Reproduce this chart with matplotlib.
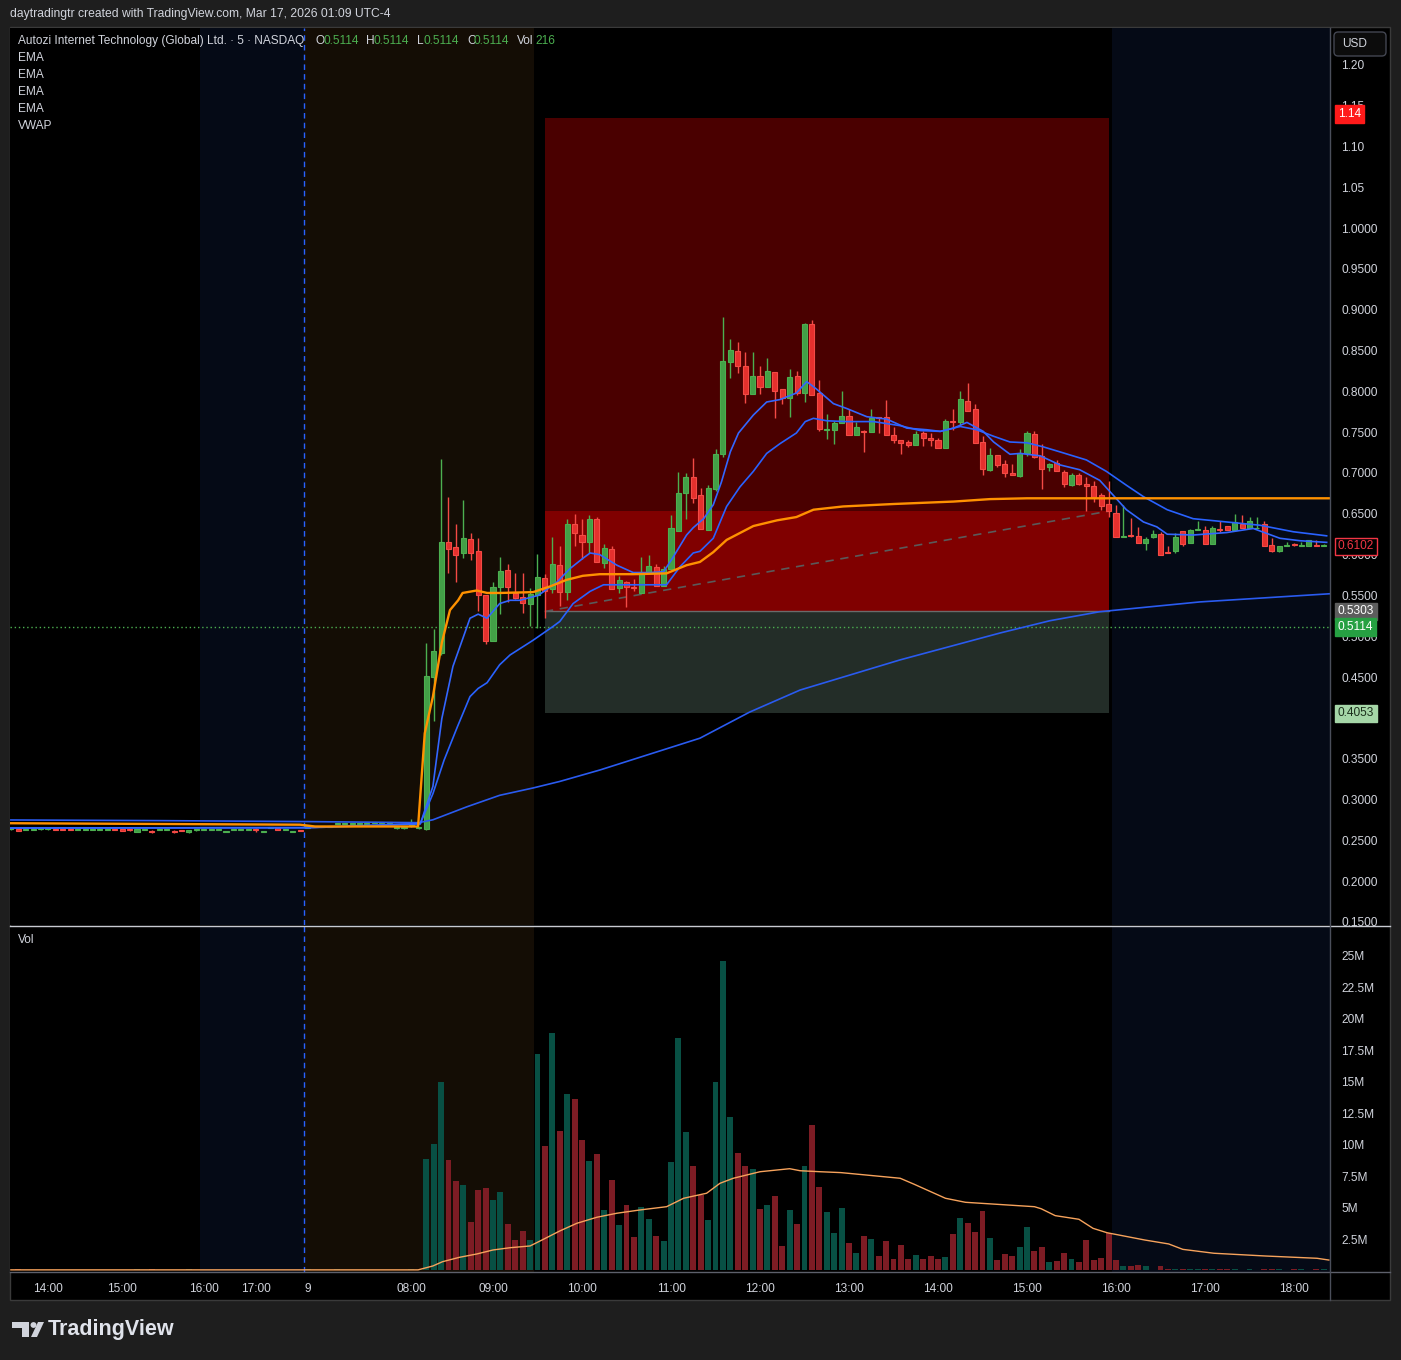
import numpy as np
import matplotlib
matplotlib.use("Agg")
import matplotlib.pyplot as plt
import matplotlib.transforms as mtrans
from matplotlib.patches import Rectangle, FancyBboxPatch, Polygon, Circle
from matplotlib.lines import Line2D

plt.rcParams["font.family"] = ["Liberation Sans", "DejaVu Sans"]

# ── 数据：5 分钟 K 线（索引 0 = 前一日 13:35 左右） ──
opens = [
    0.2633, 0.2633, 0.2630, 0.2630, 0.2633, 0.2633, 0.2635, 0.2633, 0.2633, 0.2630,
    0.2630, 0.2630, 0.2630, 0.2630, 0.2634, 0.2633, 0.2630, 0.2600, 0.2630, 0.2615,
    0.2630, 0.2630, 0.2617, 0.2620, 0.2596, 0.2620, 0.2630, 0.2630, 0.2630, 0.2600,
    0.2630, 0.2630, 0.2630, 0.2635, 0.2600, 0.2646, 0.2646, 0.2630, 0.2600, 0.2620,
    0.2650, 0.2667, 0.2667, 0.2667, 0.2703, 0.2703, 0.2703, 0.2703, 0.2703, 0.2707,
    0.2707, 0.2707, 0.2644, 0.2644, 0.2670, 0.2644,
    0.2641, 0.4504, 0.4798, 0.6150, 0.6090, 0.6020, 0.6190, 0.6050, 0.5500, 0.4945,
    0.5600, 0.5810, 0.5530, 0.5480, 0.5400, 0.5500, 0.5710, 0.5580, 0.5870, 0.5540,
    0.6370, 0.6240, 0.6150, 0.6440, 0.5900, 0.6070, 0.5590, 0.5670, 0.5600, 0.5530,
    0.5780, 0.5850, 0.5620, 0.5820, 0.6290, 0.6760, 0.6950, 0.6730, 0.6300, 0.6800,
    0.7230, 0.8360, 0.8500, 0.8310, 0.7970, 0.8190, 0.8050, 0.8240, 0.8030, 0.7920,
    0.8190, 0.7980, 0.8830, 0.7980, 0.7530, 0.7530, 0.7610, 0.7700, 0.7470, 0.7520,
    0.7500, 0.7690, 0.7690, 0.7470, 0.7400, 0.7380, 0.7340, 0.7490, 0.7430, 0.7410,
    0.7310, 0.7640, 0.7620, 0.7880, 0.7780, 0.7380, 0.7040, 0.7220, 0.7110, 0.7000,
    0.6960, 0.7250, 0.7480, 0.7210, 0.7070, 0.7120, 0.7010, 0.6850, 0.6980, 0.6860,
    0.6840, 0.6730, 0.6620, 0.6510, 0.6210, 0.6240, 0.6230, 0.6140, 0.6210, 0.6250,
    0.6035, 0.6040, 0.6290, 0.6140, 0.6300, 0.6300, 0.6130, 0.6310, 0.6350, 0.6300,
    0.6380, 0.6320, 0.6320, 0.6380, 0.6120, 0.6050, 0.6105, 0.6120, 0.6108, 0.6110,
    0.6120, 0.6100,
]
highs = [
    0.2640, 0.2636, 0.2636, 0.2645, 0.2636, 0.2636, 0.2637, 0.2635, 0.2635, 0.2636,
    0.2636, 0.2636, 0.2636, 0.2636, 0.2636, 0.2635, 0.2632, 0.2640, 0.2636, 0.2626,
    0.2636, 0.2636, 0.2620, 0.2622, 0.2622, 0.2632, 0.2636, 0.2636, 0.2636, 0.2606,
    0.2636, 0.2636, 0.2636, 0.2650, 0.2606, 0.2652, 0.2648, 0.2636, 0.2606, 0.2622,
    0.2690, 0.2673, 0.2673, 0.2673, 0.2709, 0.2709, 0.2709, 0.2709, 0.2709, 0.2713,
    0.2713, 0.2713, 0.2650, 0.2650, 0.2760, 0.2650,
    0.4917, 0.5088, 0.7172, 0.6710, 0.6380, 0.6670, 0.6260, 0.6200, 0.5500, 0.5660,
    0.5970, 0.5890, 0.5780, 0.5780, 0.5590, 0.6010, 0.5760, 0.6210, 0.6110, 0.6440,
    0.6500, 0.6440, 0.6490, 0.6460, 0.6130, 0.6100, 0.5740, 0.5680, 0.5700, 0.5970,
    0.6000, 0.5880, 0.5860, 0.6490, 0.7010, 0.7000, 0.7180, 0.6820, 0.6850, 0.7300,
    0.8910, 0.8640, 0.8610, 0.8480, 0.8480, 0.8310, 0.8410, 0.8240, 0.8030, 0.8280,
    0.8250, 0.8840, 0.8880, 0.8140, 0.7720, 0.7640, 0.8000, 0.7780, 0.7620, 0.7530,
    0.7780, 0.7690, 0.7890, 0.7560, 0.7400, 0.7400, 0.7520, 0.7510, 0.7490, 0.7430,
    0.7660, 0.7780, 0.8000, 0.8100, 0.7850, 0.7450, 0.7310, 0.7220, 0.7160, 0.7110,
    0.7290, 0.7510, 0.7510, 0.7360, 0.7120, 0.7160, 0.7040, 0.7000, 0.7000, 0.6950,
    0.6900, 0.6750, 0.6900, 0.6610, 0.6610, 0.6450, 0.6340, 0.6220, 0.6300, 0.6280,
    0.6110, 0.6270, 0.6290, 0.6310, 0.6410, 0.6350, 0.6350, 0.6410, 0.6350, 0.6500,
    0.6480, 0.6460, 0.6460, 0.6410, 0.6200, 0.6100, 0.6150, 0.6140, 0.6150, 0.6180,
    0.6180, 0.6130,
]
lows = [
    0.2628, 0.2612, 0.2628, 0.2622, 0.2630, 0.2630, 0.2628, 0.2625, 0.2625, 0.2628,
    0.2628, 0.2628, 0.2628, 0.2628, 0.2626, 0.2612, 0.2618, 0.2598, 0.2628, 0.2592,
    0.2628, 0.2628, 0.2592, 0.2612, 0.2594, 0.2618, 0.2628, 0.2628, 0.2628, 0.2598,
    0.2628, 0.2628, 0.2628, 0.2605, 0.2598, 0.2644, 0.2620, 0.2628, 0.2598, 0.2612,
    0.2648, 0.2665, 0.2665, 0.2665, 0.2701, 0.2701, 0.2701, 0.2701, 0.2701, 0.2705,
    0.2705, 0.2705, 0.2642, 0.2642, 0.2665, 0.2642,
    0.2625, 0.3965, 0.4770, 0.5770, 0.5660, 0.5960, 0.5930, 0.5310, 0.4904, 0.4945,
    0.5270, 0.5420, 0.5460, 0.5290, 0.5120, 0.5100, 0.5220, 0.5530, 0.5370, 0.5440,
    0.6110, 0.5950, 0.6020, 0.5910, 0.5830, 0.5580, 0.5530, 0.5360, 0.5550, 0.5530,
    0.5780, 0.5610, 0.5610, 0.5820, 0.6290, 0.6440, 0.6630, 0.6310, 0.6300, 0.6780,
    0.7190, 0.8170, 0.8230, 0.7860, 0.7970, 0.7970, 0.8050, 0.7670, 0.7840, 0.7690,
    0.7950, 0.7870, 0.7950, 0.7510, 0.7420, 0.7350, 0.7610, 0.7470, 0.7470, 0.7260,
    0.7500, 0.7490, 0.7470, 0.7370, 0.7230, 0.7320, 0.7340, 0.7330, 0.7330, 0.7310,
    0.7310, 0.7530, 0.7580, 0.7760, 0.7370, 0.6980, 0.7020, 0.7070, 0.6950, 0.6970,
    0.6950, 0.7210, 0.7180, 0.6810, 0.7030, 0.7020, 0.6830, 0.6840, 0.6850, 0.6530,
    0.6650, 0.6550, 0.6460, 0.6210, 0.6210, 0.6220, 0.6140, 0.6060, 0.6200, 0.6000,
    0.6020, 0.6020, 0.6110, 0.6140, 0.6300, 0.6130, 0.6130, 0.6280, 0.6300, 0.6300,
    0.6320, 0.6320, 0.6320, 0.6110, 0.6030, 0.6030, 0.6105, 0.6110, 0.6105, 0.6110,
    0.6110, 0.6100,
]
closes = [
    0.2633, 0.2615, 0.2633, 0.2633, 0.2635, 0.2635, 0.2630, 0.2627, 0.2628, 0.2634,
    0.2634, 0.2634, 0.2634, 0.2634, 0.2628, 0.2615, 0.2622, 0.2634, 0.2634, 0.2595,
    0.2634, 0.2634, 0.2595, 0.2614, 0.2620, 0.2630, 0.2634, 0.2634, 0.2634, 0.2604,
    0.2634, 0.2634, 0.2634, 0.2630, 0.2604, 0.2650, 0.2622, 0.2634, 0.2604, 0.2614,
    0.2686, 0.2671, 0.2671, 0.2671, 0.2707, 0.2707, 0.2707, 0.2707, 0.2707, 0.2711,
    0.2711, 0.2711, 0.2648, 0.2648, 0.2675, 0.2648,
    0.4512, 0.4819, 0.6154, 0.6065, 0.6000, 0.6200, 0.6020, 0.5500, 0.4945, 0.5600,
    0.5800, 0.5600, 0.5470, 0.5410, 0.5520, 0.5730, 0.5550, 0.5890, 0.5540, 0.6370,
    0.6260, 0.6150, 0.6440, 0.5910, 0.6080, 0.5580, 0.5690, 0.5600, 0.5585, 0.5770,
    0.5860, 0.5620, 0.5820, 0.6320, 0.6760, 0.6950, 0.6690, 0.6310, 0.6820, 0.7230,
    0.8370, 0.8510, 0.8310, 0.7970, 0.8190, 0.8050, 0.8250, 0.8010, 0.7920, 0.8180,
    0.7980, 0.8830, 0.7950, 0.7540, 0.7540, 0.7610, 0.7700, 0.7470, 0.7560, 0.7500,
    0.7680, 0.7670, 0.7470, 0.7400, 0.7370, 0.7340, 0.7480, 0.7430, 0.7400, 0.7310,
    0.7640, 0.7620, 0.7910, 0.7760, 0.7370, 0.7050, 0.7220, 0.7100, 0.7000, 0.6970,
    0.7250, 0.7490, 0.7200, 0.7050, 0.7110, 0.7020, 0.6860, 0.6980, 0.6860, 0.6840,
    0.6710, 0.6600, 0.6530, 0.6210, 0.6225, 0.6230, 0.6140, 0.6190, 0.6250, 0.6000,
    0.6025, 0.6220, 0.6130, 0.6300, 0.6310, 0.6130, 0.6320, 0.6300, 0.6300, 0.6400,
    0.6320, 0.6410, 0.6330, 0.6110, 0.6050, 0.6100, 0.6112, 0.6115, 0.6112, 0.6180,
    0.6110, 0.6102,
]
# 成交量（百万股）
volumes = [
    0.05, 0.08, 0.03, 0.04, 0.02, 0.03, 0.05, 0.04, 0.06, 0.02,
    0.03, 0.02, 0.02, 0.03, 0.04, 0.07, 0.05, 0.09, 0.03, 0.08,
    0.03, 0.02, 0.07, 0.05, 0.08, 0.04, 0.02, 0.03, 0.02, 0.04,
    0.02, 0.02, 0.03, 0.06, 0.03, 0.05, 0.07, 0.02, 0.03, 0.04,
    0.12, 0.06, 0.05, 0.04, 0.08, 0.05, 0.04, 0.03, 0.03, 0.05,
    0.04, 0.06, 0.05, 0.04, 0.15, 0.06,
    8.86, 10.06, 14.98, 8.78, 7.11, 6.80, 3.86, 6.40, 6.56, 5.60,
    6.24, 3.70, 2.42, 3.14, 2.42, 17.2, 9.90, 18.9, 11.1, 14.0,
    13.6, 10.4, 8.7, 9.26, 4.8, 7.2, 3.6, 5.2, 2.66, 5.05,
    4.09, 2.74, 2.34, 8.62, 18.5, 11.0, 8.3, 6.0, 4.0, 15.0,
    24.6, 12.2, 9.3, 8.3, 8.1, 4.9, 5.2, 5.9, 1.95, 4.8,
    3.7, 8.3, 11.6, 6.6,
    4.65, 2.98, 4.97, 2.19, 1.39, 2.74, 2.50, 1.15, 2.34, 0.91,
    2.03, 0.91, 1.23, 0.91, 1.15, 0.91, 1.07, 2.90, 4.17, 3.78,
    3.06, 4.73, 2.58, 0.83, 1.31, 1.15, 1.87, 3.46, 1.55, 1.87,
    0.68, 0.76, 1.39, 0.91, 0.68, 2.42, 0.83, 0.99, 2.98, 0.83,
    0.38, 0.38, 0.46, 0.38, 0.05, 0.38, 0.12, 0.12, 0.08, 0.08,
    0.08, 0.08, 0.10, 0.12, 0.08, 0.08, 0.06, 0.12, 0.06, 0.12,
    0.12, 0.08, 0.06, 0.08, 0.08, 0.06, 0.08, 0.08,
]

# 指标线（从图上读取的采样点：K 线索引, 数值）
ema_fast_x = [0, 40, 55.2, 56.9, 58.1, 59.6, 61.9, 63.0, 64.2, 65.9, 67.3, 68.6, 71.1, 73.6, 75.4,
              77.2, 78.1, 79.4, 81.7, 83.9, 86.2, 88.0, 89.3, 91.1, 92.0, 93.4, 94.7, 95.8, 97.0,
              98.1, 100.1, 101.9, 103.7, 105.9, 107.3, 108.6, 110.9, 112.7, 115.4, 118.1, 120.8,
              123.5, 125.3, 127.1, 128.9, 131.1, 132.5, 134.7, 136.1, 138.8, 141.4, 144.1, 146.8,
              148.6, 150.4, 152.7, 154.5, 155.9, 159.4, 163.9, 167.5, 169.3, 171.1, 173.8, 177.4]
ema_fast_y = [0.2648, 0.2652, 0.2700, 0.316, 0.399, 0.463, 0.522, 0.527, 0.522, 0.540, 0.544, 0.544,
              0.550, 0.566, 0.583, 0.596, 0.602, 0.600, 0.587, 0.578, 0.578, 0.579, 0.597, 0.624,
              0.633, 0.644, 0.661, 0.689, 0.726, 0.749, 0.771, 0.787, 0.790, 0.798, 0.812, 0.803,
              0.785, 0.779, 0.769, 0.766, 0.755, 0.753, 0.751, 0.755, 0.762, 0.751, 0.738, 0.723,
              0.724, 0.721, 0.710, 0.704, 0.691, 0.673, 0.655, 0.640, 0.634, 0.625, 0.624, 0.627,
              0.632, 0.626, 0.620, 0.617, 0.615]
ema_mid_x = [0, 40, 55.2, 56.9, 58.4, 60.2, 61.9, 63.0, 64.2, 65.9, 67.3, 70.4, 73.1, 74.0, 75.8,
             78.1, 79.9, 83.9, 88.4, 90.2, 92.0, 92.9, 94.7, 96.5, 98.3, 100.1, 101.9, 103.7, 105.9,
             107.1, 108.2, 110.0, 112.7, 116.3, 119.9, 122.6, 125.3, 128.0, 130.2, 132.5, 134.7,
             137.0, 139.2, 141.4, 145.0, 147.7, 150.4, 152.7, 155.9, 159.4, 163.9, 168.4, 172.9, 177.4]
ema_mid_y = [0.2650, 0.2655, 0.2705, 0.307, 0.348, 0.389, 0.426, 0.436, 0.443, 0.465, 0.477, 0.495,
             0.512, 0.518, 0.540, 0.555, 0.563, 0.563, 0.563, 0.585, 0.602, 0.604, 0.620, 0.659,
             0.683, 0.702, 0.724, 0.736, 0.749, 0.763, 0.767, 0.764, 0.763, 0.763, 0.758, 0.752,
             0.751, 0.757, 0.753, 0.745, 0.738, 0.737, 0.732, 0.726, 0.716, 0.702, 0.685, 0.671,
             0.655, 0.644, 0.640, 0.636, 0.628, 0.623]
ema_slow_x = [0, 20, 40, 55, 56.9, 61.5, 65.9, 70.4, 74.0, 79.4, 92.9, 99.6, 106.4, 119.9, 133.4,
              140.1, 146.8, 160.3, 177.8]
ema_slow_y = [0.2748, 0.2740, 0.2728, 0.2715, 0.275, 0.291, 0.305, 0.314, 0.322, 0.336, 0.375, 0.407,
              0.434, 0.471, 0.504, 0.519, 0.530, 0.542, 0.552]
vwap_x = [0, 39, 41, 54.9, 55.8, 56.9, 58.1, 59.2, 60.3, 60.9, 62.8, 64.2, 65.9, 70.4, 72.7, 74.9,
          77.1, 79.4, 83.9, 88.4, 91.1, 92.9, 94.7, 96.5, 100.1, 103.3, 105.9, 108.2, 112.2, 119.0,
          127.1, 132.0, 137.0, 177.8]
vwap_y = [0.2708, 0.2690, 0.2668, 0.2668, 0.381, 0.426, 0.492, 0.532, 0.544, 0.553, 0.556, 0.553,
          0.553, 0.554, 0.561, 0.569, 0.574, 0.576, 0.576, 0.577, 0.587, 0.591, 0.603, 0.618,
          0.635, 0.642, 0.646, 0.655, 0.659, 0.662, 0.665, 0.668, 0.669, 0.669]
vol_ma_x = [0, 54.9, 56.9, 58.2, 60.5, 62.8, 65.0, 67.3, 70.0, 71.8, 74.0, 76.3, 79.0, 81.7, 84.8,
            88.4, 90.7, 93.8, 95.6, 97.4, 101.0, 105.0, 106.4, 109.1, 111.9, 119.9, 121.8, 126.0,
            128.7, 138.0, 138.9, 140.8, 144.0, 145.9, 147.8, 152.9, 156.1, 158.0, 162.2, 169.2,
            176.1, 177.7]
vol_ma_y = [0.05, 0.05, 0.36, 0.70, 1.05, 1.31, 1.63, 1.81, 1.95, 2.48, 3.14, 3.75, 4.23, 4.55, 4.81,
            5.07, 5.74, 6.14, 6.93, 7.33, 7.85, 8.09, 7.93, 7.85, 7.78, 7.33, 6.85, 5.74, 5.42,
            5.07, 4.91, 4.36, 4.07, 3.35, 3.00, 2.42, 2.11, 1.68, 1.37, 1.15, 0.97, 0.83]

# 空头仓位工具
pos_x = [72.0, 148.1]
entry_price = 0.5303
stop_price = 1.135
target_price = 0.4053
pos_end_price = 0.6534
last_price = 0.5114

# 轴刻度（0.4000 被目标价标签遮住，不显示）
price_ticks = [1.20, 1.15, 1.10, 1.05, 1.00, 0.95, 0.90, 0.85, 0.80, 0.75, 0.70, 0.65, 0.60,
               0.55, 0.50, 0.45, 0.35, 0.30, 0.25, 0.20, 0.15]
vol_ticks = [2.5, 5, 7.5, 10, 12.5, 15, 17.5, 20, 22.5, 25]
time_ticks = [5, 15, 26, 33, 40, 54, 65, 77, 89, 101, 113, 125, 137, 149, 161, 173]
time_labels = ["14:00", "15:00", "16:00", "17:00", "9", "08:00", "09:00", "10:00", "11:00",
               "12:00", "13:00", "14:00", "15:00", "16:00", "17:00", "18:00"]
# 交易时段分界（K 线索引）
post_prev = (25.5, 39.5)
premarket = (39.5, 70.5)
post_today = (148.5, 179)

# ── 配色 ──
TXT = "#d1d4dc"
UP, UP_FACE = "#4caf50", "#43a047"
DN, DN_FACE = "#f44a45", "#e5302d"
VOL_UP, VOL_DN = "#085044", "#7d1c24"
BLUE = "#2962ff"
ORANGE = "#ff9100"
NAVY = "#050a16"
BROWN = "#140d05"

W, H = 1401, 1360
fig = plt.figure(figsize=(W / 100, H / 100), dpi=100, facecolor="#1e1e1e")


def fx(px):
    return px / W


def fy(py):
    return 1 - py / H


def ftext(px, py, s, **kw):
    kw.setdefault("color", TXT)
    kw.setdefault("fontsize", 8.6)
    kw.setdefault("va", "center")
    fig.text(fx(px), fy(py), s, **kw)


# 图表外框
fig.add_artist(Rectangle((fx(10), fy(1300)), 1380 / W, 1273 / H, transform=fig.transFigure,
                         facecolor="black", edgecolor="#3a3a3a", lw=1, zorder=0))

ax_p = fig.add_axes([fx(10), fy(925), 1320 / W, 897 / H], facecolor="black")
ax_v = fig.add_axes([fx(10), fy(1272), 1320 / W, 346 / H], facecolor="black")

o = np.array(opens)
h = np.array(highs)
l = np.array(lows)
c = np.array(closes)
v = np.array(volumes)
x = np.arange(len(c))
up = c >= o

for ax in (ax_p, ax_v):
    ax.set_xlim(-0.12, 177.85)
    for a, b in (post_prev, post_today):
        ax.axvspan(a, b, color=NAVY, lw=0, zorder=0)
    ax.axvspan(*premarket, color=BROWN, lw=0, zorder=0)
    ax.axvline(39.5, color=BLUE, lw=1, ls=(0, (4, 3)), zorder=1)
    for s in ax.spines.values():
        s.set_visible(False)

# 仓位区域
ax_p.fill_between(pos_x, pos_end_price, stop_price, color="#4a0000", lw=0, zorder=1)
ax_p.fill_between(pos_x, entry_price, pos_end_price, color="#800000", lw=0, zorder=1)
ax_p.fill_between(pos_x, target_price, entry_price, color="#232d28", lw=0, zorder=1)
ax_p.plot(pos_x, [entry_price, entry_price], color="#6b6b6b", lw=1, zorder=1.5)
ax_p.plot(pos_x, [entry_price, pos_end_price], color="#5a5a5a", lw=1.2,
          ls=(0, (5, 4)), zorder=1.5)
ax_p.axhline(last_price, color=UP, lw=1, ls=(0, (1, 2)), zorder=1.5)

# K 线
body_lo = np.minimum(o, c)
body_h = np.maximum(np.abs(c - o), 0.0012)
for mask, edge, face in ((up, UP, UP_FACE), (~up, DN, DN_FACE)):
    ax_p.vlines(x[mask], l[mask], h[mask], color=edge, lw=1, zorder=3)
    ax_p.bar(x[mask], body_h[mask], bottom=body_lo[mask], width=0.68, color=face,
             edgecolor=edge, lw=0.8, zorder=3.5)

# 指标线
ax_p.plot(ema_slow_x, ema_slow_y, color="#2a5bf0", lw=1.2, zorder=4)
ax_p.plot(ema_mid_x, ema_mid_y, color=BLUE, lw=1.2, zorder=4)
ax_p.plot(ema_fast_x, ema_fast_y, color="#3366ff", lw=1.2, zorder=4)
ax_p.plot(vwap_x, vwap_y, color=ORANGE, lw=1.7, zorder=4.2)

ax_p.set_ylim(0.14608, 1.24534)
ax_p.yaxis.tick_right()
ax_p.set_yticks(price_ticks)
ax_p.set_yticklabels([f"{t:.2f}" if t > 1.001 else f"{t:.4f}" for t in price_ticks])
ax_p.tick_params(axis="y", length=0, pad=8, labelcolor=TXT, labelsize=8.6)
ax_p.set_xticks([])

# 右轴价格标签
blend = mtrans.blended_transform_factory(ax_p.transAxes, ax_p.transData)
labels = [
    (1.14, "1.14", "white", "#ff1a1a", "#ff1a1a"),
    (0.6102, "0.6102", "#f23645", "black", "#f23645"),
    (entry_price, "0.5303", "white", "#5d5d5d", "#5d5d5d"),
    (last_price, "0.5114", "white", "#26a042", "#26a042"),
    (target_price, "0.4053", "#1b2e1b", "#a5d6a7", "#a5d6a7"),
]
for yv, s, tc, fc, ec in labels:
    ax_p.text(1.006, yv, s, transform=blend, ha="left", va="center", fontsize=8.6,
              color=tc, clip_on=False, zorder=10,
              bbox=dict(boxstyle="square,pad=0.22", fc=fc, ec=ec, lw=1))

# 成交量
ax_v.bar(x, v, width=0.8, color=np.where(up, VOL_UP, VOL_DN), lw=0, zorder=2)
ax_v.plot(vol_ma_x, vol_ma_y, color="#f7a35c", lw=1, zorder=3)
ax_v.set_ylim(-0.12, 27.38)
ax_v.yaxis.tick_right()
ax_v.set_yticks(vol_ticks)
ax_v.set_yticklabels([f"{t:g}M" for t in vol_ticks])
ax_v.tick_params(axis="y", length=0, pad=8, labelcolor=TXT, labelsize=8.6)
ax_v.set_xticks(time_ticks)
ax_v.set_xticklabels(time_labels)
ax_v.tick_params(axis="x", length=0, pad=8, labelcolor=TXT, labelsize=8.6)

# 分隔线
for (x0, y0, x1, y1, col) in [
    (10, 925.5, 1390, 925.5, "#c8cbd2"),
    (10, 1272, 1390, 1272, "#5d606b"),
    (1330, 28, 1330, 1300, "#4a4e5a"),
]:
    fig.add_artist(Line2D([fx(x0), fx(x1)], [fy(y0), fy(y1)], color=col, lw=1,
                          transform=fig.transFigure, zorder=5))

# USD 按钮
fig.add_artist(FancyBboxPatch((fx(1334), fy(56)), 52 / W, 24 / H, transform=fig.transFigure,
                              boxstyle="round,pad=0,rounding_size=0.003", fc="#0c0c0c",
                              ec="#434651", lw=1, zorder=6))
ftext(1342, 44, "USD", zorder=7)

# 顶部文字与图例
ftext(10, 14, "daytradingtr created with TradingView.com, Mar 17, 2026 01:09 UTC-4", fontsize=8.7)
ftext(18, 41, "Autozi Internet Technology (Global) Ltd. · 5 · NASDAQ")
for px, s, col in [(315, "O", TXT), (323, "0.5114", UP), (366, "H", TXT), (374, "0.5114", UP),
                   (417, "L", TXT), (423, "0.5114", UP), (467, "C", TXT), (474, "0.5114", UP),
                   (517, "Vol", TXT), (535, "216", UP)]:
    ftext(px, 41, s, color=col)
for i, s in enumerate(["EMA", "EMA", "EMA", "EMA", "VWAP"]):
    ftext(18, 58 + 17 * i, s)
ftext(18, 940, "Vol")

# TradingView 标志
logo_col = "#d1d4dc"
fig.add_artist(Polygon([(fx(12), fy(1322)), (fx(29), fy(1322)), (fx(29), fy(1337)),
                        (fx(22), fy(1337)), (fx(22), fy(1328)), (fx(12), fy(1328))],
                       closed=True, transform=fig.transFigure, fc=logo_col, ec="none"))
fig.add_artist(Circle((fx(33.5), fy(1325)), 3 / W, transform=fig.transFigure, fc=logo_col,
                      ec="none"))
fig.add_artist(Polygon([(fx(38), fy(1322)), (fx(44), fy(1322)), (fx(37), fy(1337)),
                        (fx(31), fy(1337))], closed=True, transform=fig.transFigure,
                       fc=logo_col, ec="none"))
ftext(48, 1330, "TradingView", fontsize=15.5, fontweight="bold", color="#e0e3eb")

fig.savefig("out.png", dpi=100, facecolor=fig.get_facecolor())
